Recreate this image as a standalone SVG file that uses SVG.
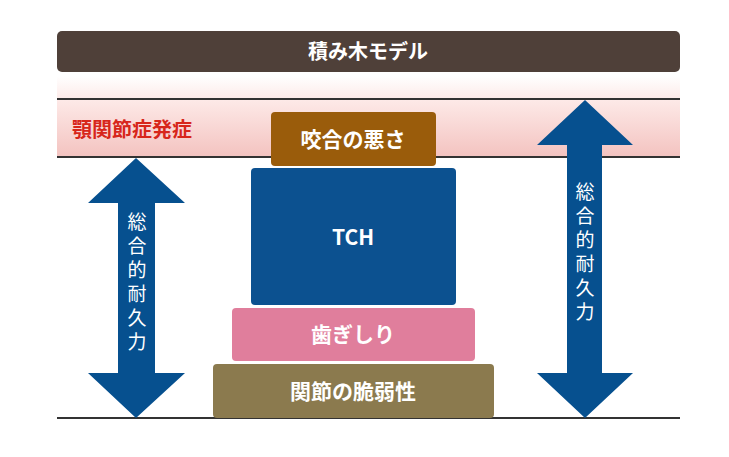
<svg xmlns="http://www.w3.org/2000/svg" width="729" height="457" viewBox="0 0 729 457">
<defs>
<linearGradient id="pk" x1="0" y1="0" x2="0" y2="1">
<stop offset="0" stop-color="#ffffff"/><stop offset="0.3" stop-color="#fde9e7"/><stop offset="1" stop-color="#f3c2bf"/>
</linearGradient>
<style>
.t{font-family:"Noto Sans CJK JP","Noto Sans",sans-serif;font-weight:bold;fill:#fff;text-anchor:middle}
.v{font-family:"Noto Sans CJK JP",sans-serif;fill:#fff;font-size:19px;writing-mode:vertical-rl;letter-spacing:5px}
.ln{stroke:#333;stroke-width:2}
</style>
</defs>
<rect width="729" height="457" fill="#fff"/>
<rect x="57" y="76" width="623" height="82" fill="url(#pk)"/>
<line class="ln" x1="57" y1="99" x2="680" y2="99"/>
<line class="ln" x1="57" y1="157" x2="680" y2="157"/>
<line class="ln" x1="57" y1="418" x2="680" y2="418"/>
<g id="title"><rect x="57" y="31" width="623" height="41" rx="5" fill="#4f4039"/><text class="t" x="368" y="59" font-size="20">積み木モデル</text></g>
<g id="label"><text x="72" y="137" font-family="Noto Sans CJK JP,sans-serif" font-weight="bold" font-size="20" fill="#d7261b">顎関節症発症</text></g>
<g id="arrows">
<polygon points="136,158 185,203 155,203 155,373 185,373 136,418 88,373 118,373 118,203 88,203" fill="#06508f"/>
<polygon points="585,100 633,145 602,145 602,373 633,373 585,418 537,373 567,373 567,145 537,145" fill="#06508f"/>
</g>
<g id="arrowtextL"><text class="v" x="137" y="212">総合的耐久力</text></g>
<g id="arrowtextR"><text class="v" x="585" y="182">総合的耐久力</text></g>
<g id="b1"><rect x="271" y="112" width="165" height="54" rx="4" fill="#9a5c0b"/><text class="t" x="353" y="147" font-size="21">咬合の悪さ</text></g>
<g id="b2"><rect x="251" y="168" width="205" height="137" rx="4" fill="#0c5190"/><text class="t" x="353" y="245" font-size="21">TCH</text></g>
<g id="b3"><rect x="232" y="308" width="243" height="53" rx="4" fill="#e07e9c"/><text class="t" x="353" y="342" font-size="21">歯ぎしり</text></g>
<g id="b4"><rect x="213" y="364" width="281" height="54" rx="4" fill="#8b7a4e"/><text class="t" x="353" y="399" font-size="21">関節の脆弱性</text></g>
</svg>
